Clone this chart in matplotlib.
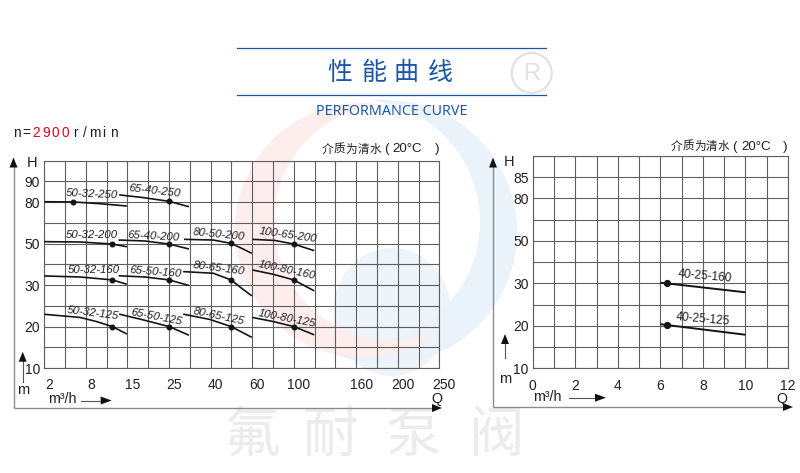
import numpy as np
import matplotlib
matplotlib.use("Agg")
import matplotlib.pyplot as plt
from matplotlib.patches import Polygon, Circle, Ellipse
from matplotlib.transforms import ScaledTranslation

# ---------------- data ----------------
LEFT_Q_TICKS = [2, 8, 15, 25, 40, 60, 100, 160, 200, 250]
LEFT_H_TICKS = [10, 20, 30, 50, 80, 90]
RIGHT_Q_TICKS = [0, 2, 4, 6, 8, 10, 12]
RIGHT_H_TICKS = [10, 20, 30, 50, 80, 85]

LEFT_MODELS = ["50-32-250", "65-40-250",
               "50-32-200", "65-40-200", "80-50-200", "100-65-200",
               "50-32-160", "65-50-160", "80-65-160", "100-80-160",
               "50-32-125", "65-50-125", "80-65-125", "100-80-125"]
LEFT_Q = [[2, 6.2, 10.4, 14.9],
          [13.6, 18.8, 25, 32.2],
          [2, 7.15, 12.45, 14.9],
          [13.5, 19.2, 25, 32.2],
          [30.4, 41.3, 49.8, 55.0, 59.8],
          [60.1, 81.9, 99.9, 119.7],
          [2, 7.15, 12.45, 14.9],
          [13.5, 19.2, 25, 32.2],
          [30.1, 41.3, 49.8, 55.0, 59.8],
          [60.1, 80.3, 99.9, 119.7],
          [2, 7.15, 9.8, 12.45, 14.9],
          [13.6, 18.8, 25, 32.2],
          [30.1, 39.8, 49.8, 59.8],
          [60.1, 80.3, 99.9, 119.7]]
LEFT_H = [[80.2, 80.1, 78.9, 77.2],
          [83.5, 82.2, 80.4, 76.7],
          [51.4, 51.2, 49.8, 48.5],
          [52.6, 51.9, 49.8, 47.4],
          [53.1, 52.6, 50.2, 47.7, 45.3],
          [53.1, 52.3, 49.8, 46.6],
          [34.4, 33.9, 32.5, 30.4],
          [34.5, 33.9, 32.5, 29.9],
          [36.5, 35.7, 32.5, 29.2, 27.4],
          [37.3, 35.2, 32.5, 28.6],
          [22.95, 22.2, 21.2, 20.0, 18.2],
          [23.0, 21.6, 20.0, 17.9],
          [23.0, 21.7, 20.0, 17.4],
          [22.2, 21.2, 20.0, 18.0]]
LEFT_DOT_Q = [6.2, 25, 12.45, 25, 49.8, 99.9, 12.45, 25, 49.8, 99.9, 12.45, 25, 49.8, 99.9]
LEFT_DOT_H = [80.1, 80.4, 49.8, 49.8, 50.2, 49.8, 32.5, 32.5, 32.5, 32.5, 20.0, 20.0, 20.0, 20.0]

RIGHT_MODELS = ["40-25-160", "40-25-125"]
RIGHT_Q = [[6.0, 6.3, 10.0], [6.0, 6.3, 10.0]]
RIGHT_H = [[30.3, 30.0, 27.9], [20.4, 20.2, 17.9]]
RIGHT_DOT_Q = [6.3, 6.3]
RIGHT_DOT_H = [30.0, 20.2]

# ---------------- scale definitions (grid index of each anchor value) ----------------
LEFT_Q_GRID_INDEX = [0, 2, 4, 6, 8, 10, 12, 15, 17, 19]
LEFT_H_ANCHORS = [10, 20, 30, 50, 80, 90, 100]
RIGHT_H_ANCHORS = [10, 20, 30, 50, 80, 85, 90]
H_GRID_INDEX = [0, 2, 4, 6, 8, 9, 10]

# ---------------- label layout (offset px from marked point, rotation) ----------------
LEFT_LABEL_OFFSET = [(19, 8), (-14, 10), (-20, 9), (-15, 7.5), (-12, 8.5), (-6, 9),
                     (-18, 10), (-13, 8), (-12, 11.5), (-7, 10),
                     (-19, 13), (-13, 9.5), (-12, 10), (-7, 8.5)]
LEFT_LABEL_ROT = [-2.6, -6.4, 0, -3, -5.5, -8, 0, -4.4, -7.4, -12, -7, -11, -11.7, -10.8]
RIGHT_LABEL_OFFSET = [(38, 7.5), (36, 5.5)]
RIGHT_LABEL_ROT = [-5, -5]

MEDIUM_PARTS = ["介", "质", "为", "清", "水", "(", "20°C", ")"]
MEDIUM_DX = [0, 12, 23.7, 35.5, 47.5, 58.5, 79.8, 109.3]
MEDIUM_SIZE = [8.4, 8.4, 8.4, 8.4, 8.4, 9.6, 9.6, 9.6]

TEXT = "#231f20"
GRID = "#5f5f5f"
CURVE = "#151515"
FRAME = "#8c8c8c"
BLUE = "#1c56a6"

plt.rcParams["font.family"] = ["Liberation Sans", "Noto Sans CJK SC", "DejaVu Sans"]

W, H = 800, 473
fig = plt.figure(figsize=(W / 100, H / 100), dpi=100)
fig.patch.set_facecolor("white")

# background / decoration axes in pixel coordinates
bg = fig.add_axes([0, 0, 1, 1], zorder=0)
bg.set_xlim(0, W)
bg.set_ylim(H, 0)
bg.axis("off")


def arc_run(pts, mask):
    start = np.where(mask & ~np.roll(mask, 1))[0]
    if len(start) == 0:
        return pts[mask]
    pts = np.roll(pts, -start[0], axis=0)
    mask = np.roll(mask, -start[0])
    end = len(mask) if mask.all() else int(np.argmin(mask))
    return pts[:end]


def crescent(c1, r1, c2, r2, n=720):
    t = np.linspace(0, 2 * np.pi, n, endpoint=False)
    outer = np.c_[c1[0] + r1 * np.cos(t), c1[1] + r1 * np.sin(t)]
    inner = np.c_[c2[0] + r2 * np.cos(t), c2[1] + r2 * np.sin(t)]
    mo = np.hypot(outer[:, 0] - c2[0], outer[:, 1] - c2[1]) > r2
    mi = np.hypot(inner[:, 0] - c1[0], inner[:, 1] - c1[1]) < r1
    a = arc_run(outer, mo)
    b = arc_run(inner, mi)
    if np.hypot(*(b[0] - a[-1])) > np.hypot(*(b[-1] - a[-1])):
        b = b[::-1]
    return np.vstack([a, b])


# logo watermark
bg.add_patch(Ellipse((392, 312), 118, 128, color="#edf5fa", lw=0, zorder=0))
bg.add_patch(Polygon(crescent((385, 232), 132, (358, 222), 122), closed=True,
                     color="#eaf3f9", lw=0, zorder=0))
bg.add_patch(Polygon(crescent((362, 230), 127, (392, 222), 118), closed=True,
                     color="#fdeded", lw=0, zorder=0.5))

# registered mark
bg.add_patch(Circle((531.7, 73), 20, fill=False, ec="#e2e2e2", lw=1.6))
bg.text(531.7, 73.5, "R", fontsize=17, color="#e2e2e2", ha="center", va="center")

# title
bg.plot([236.7, 546], [48.3, 48.3], color=BLUE, lw=0.9)
bg.plot([236.7, 546], [95, 95], color=BLUE, lw=0.9)
for ch, cx in zip("性能曲线", [340, 374, 406.5, 440.5]):
    bg.text(cx, 73.5, ch, fontsize=18, color=BLUE, ha="center", va="center",
            family=["Noto Sans CJK SC"])
bg.text(391.7, 111.7, "PERFORMANCE CURVE", fontsize=10.3, color=BLUE, ha="center",
        va="center", family=["Noto Sans"])

# speed text
speed = "n=2900r/min"
for i, ch in enumerate(speed):
    bg.text(17 + 9.68 * i, 132.7, ch, fontsize=9.8, ha="center", va="center",
            color="#e60012" if 2 <= i <= 5 else TEXT)

# medium text
for x0, y0 in ((327.6, 149.3), (676.2, 146.7)):
    for part, dx, fs in zip(MEDIUM_PARTS, MEDIUM_DX, MEDIUM_SIZE):
        fam = ["Noto Sans CJK SC"] if ord(part[0]) > 0x2E80 else ["Liberation Sans"]
        bg.text(x0 + dx, y0, part, fontsize=fs, color=TEXT, ha="center", va="center",
                family=fam)

# bottom watermark characters
for ch, cx in zip("氟耐泵阀", [253, 330, 413, 497]):
    bg.text(cx, 436, ch, fontsize=40, color="#ececec", ha="center", va="center",
            family=["Noto Sans CJK SC"], zorder=0)


def arrow_head(x, y, direction, length=10, half=4, color="#111111"):
    if direction == "up":
        pts = [(x, y), (x - half, y + length), (x + half, y + length)]
    else:
        pts = [(x, y), (x - length, y - half), (x - length, y + half)]
    bg.add_patch(Polygon(pts, closed=True, color=color, lw=0, zorder=3))


# frame lines and arrows
for (x0, y0, xend, ytip) in [(13.5, 408, 442, 157.5), (493, 407, 793, 157.5)]:
    bg.plot([x0, x0], [y0, ytip + 9], color=FRAME, lw=1.0, solid_capstyle="butt")
    bg.plot([x0, xend - 9], [y0, y0], color=FRAME, lw=1.0, solid_capstyle="butt")
    arrow_head(x0, ytip, "up")
    arrow_head(xend, y0, "right")

# small unit arrows
for (x, ytip, ybot) in [(22.7, 351.7, 381.7), (505, 334, 358)]:
    bg.plot([x, x], [ytip + 9, ybot], color="#555555", lw=0.8)
    arrow_head(x, ytip, "up", length=10, half=4)
for (x0, xtip, y) in [(81, 111.7, 400.5), (569, 606, 397.7)]:
    bg.plot([x0, xtip - 10], [y, y], color="#555555", lw=0.8)
    arrow_head(xtip, y, "right", length=11, half=4)

# axis letters
bg.text(32, 162.5, "H", fontsize=10.5, color=TEXT, ha="center", va="center")
bg.text(509, 161.7, "H", fontsize=10.5, color=TEXT, ha="center", va="center")
bg.text(23.3, 390, "m", fontsize=10.5, color=TEXT, ha="center", va="center")
bg.text(505, 379, "m", fontsize=10.5, color=TEXT, ha="center", va="center")
bg.text(48, 398.5, "m³/h", fontsize=10.3, color=TEXT, ha="left", va="center")
bg.text(533, 397.3, "m³/h", fontsize=10.3, color=TEXT, ha="left", va="center")
bg.text(436.7, 399, "Q", fontsize=10.3, color=TEXT, ha="center", va="center")
bg.text(781.7, 398.5, "Q", fontsize=10.3, color=TEXT, ha="center", va="center")


def piecewise(vals, idx):
    v = np.asarray(vals, float)
    p = np.asarray(idx, float)

    def fwd(x):
        return np.interp(np.asarray(x, float), v, p)

    def inv(y):
        return np.interp(np.asarray(y, float), p, v)
    return fwd, inv


def style_axes(ax, xticks, yticks, xgrid, ygrid):
    ax.set_xticks(xticks, [str(t) for t in xticks])
    ax.set_yticks(yticks, [str(t) for t in yticks])
    ax.set_xticks(xgrid, minor=True)
    ax.set_yticks(ygrid, minor=True)
    ax.xaxis.remove_overlapping_locs = False
    ax.yaxis.remove_overlapping_locs = False
    ax.grid(False, which="major")
    ax.grid(True, which="minor", color=GRID, lw=0.8)
    ax.tick_params(which="both", length=0, labelsize=10, colors=TEXT)
    ax.tick_params(axis="x", pad=7.5)
    ax.tick_params(axis="y", pad=3)
    ax.set_facecolor("none")
    ax.set_axisbelow(True)
    for s in ax.spines.values():
        s.set_color(GRID)
        s.set_linewidth(0.8)


# ---------------- left chart ----------------
axL = fig.add_axes([44.3 / W, (H - 368) / H, 395 / W, 207.3 / H], zorder=2)
qf, qi = piecewise(LEFT_Q_TICKS, LEFT_Q_GRID_INDEX)
hf, hi = piecewise(LEFT_H_ANCHORS, H_GRID_INDEX)
axL.set_xscale("function", functions=(qf, qi))
axL.set_yscale("function", functions=(hf, hi))
axL.set_xlim(LEFT_Q_TICKS[0], LEFT_Q_TICKS[-1])
axL.set_ylim(LEFT_H_ANCHORS[0], LEFT_H_ANCHORS[-1])
style_axes(axL, LEFT_Q_TICKS, LEFT_H_TICKS, qi(np.arange(20)), hi(np.arange(11)))
shift = ScaledTranslation(5 / 100, 0, fig.dpi_scale_trans)
for lab in axL.get_xticklabels():
    lab.set_transform(lab.get_transform() + shift)

for name, q, h, dq, dh, off, rot in zip(LEFT_MODELS, LEFT_Q, LEFT_H, LEFT_DOT_Q, LEFT_DOT_H,
                                        LEFT_LABEL_OFFSET, LEFT_LABEL_ROT):
    axL.plot(q, h, color=CURVE, lw=1.2, solid_capstyle="butt", zorder=3)
    axL.plot([dq], [dh], "o", ms=3.3, color=CURVE, zorder=4)
    axL.annotate(name, (dq, dh), xytext=off, textcoords="offset pixels", ha="center",
                 va="center", rotation=rot, rotation_mode="anchor", fontsize=8.2,
                 style="italic", color=TEXT, zorder=5)

# ---------------- right chart ----------------
axR = fig.add_axes([532.7 / W, (H - 368.3) / H, 255.3 / W, 212.3 / H], zorder=2)
rf, ri = piecewise(RIGHT_H_ANCHORS, H_GRID_INDEX)
axR.set_yscale("function", functions=(rf, ri))
axR.set_xlim(RIGHT_Q_TICKS[0], RIGHT_Q_TICKS[-1])
axR.set_ylim(RIGHT_H_ANCHORS[0], RIGHT_H_ANCHORS[-1])
style_axes(axR, RIGHT_Q_TICKS, RIGHT_H_TICKS, np.arange(13), ri(np.arange(11)))

for name, q, h, dq, dh, off, rot in zip(RIGHT_MODELS, RIGHT_Q, RIGHT_H, RIGHT_DOT_Q,
                                        RIGHT_DOT_H, RIGHT_LABEL_OFFSET, RIGHT_LABEL_ROT):
    axR.plot(q, h, color=CURVE, lw=1.4, solid_capstyle="butt", zorder=3)
    axR.plot([dq], [dh], "o", ms=4.2, color=CURVE, zorder=4)
    axR.annotate(name, (dq, dh), xytext=off, textcoords="offset pixels", ha="center",
                 va="center", rotation=rot, rotation_mode="anchor", fontsize=8.6,
                 color=TEXT, zorder=5)

fig.savefig("out.png", dpi=100, facecolor="white")
